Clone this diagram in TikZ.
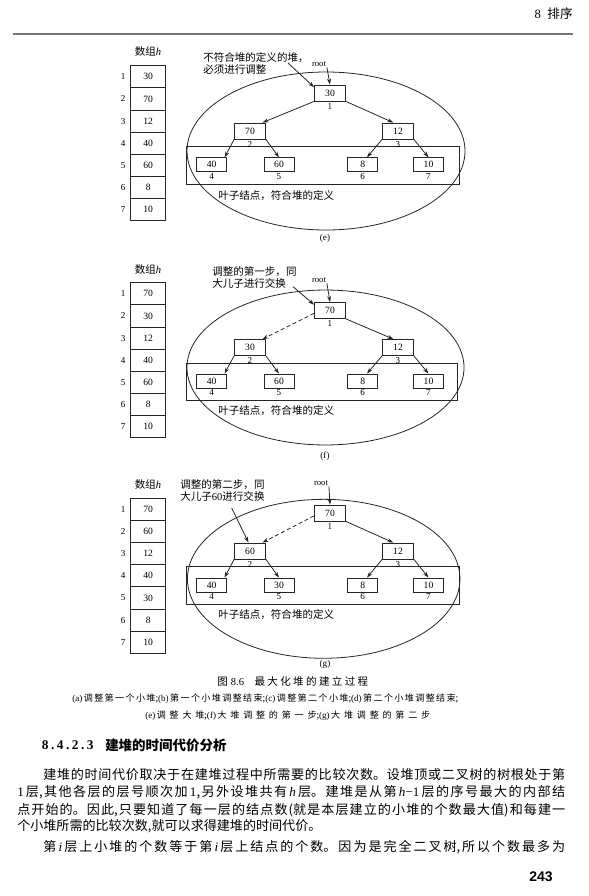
\documentclass[tikz,border=0pt]{standalone}
\usepackage{fontspec}
\setmainfont{Liberation Serif}
\newfontfamily\cjk{Noto Sans CJK SC}
\newfontfamily\pgfont{Liberation Sans}
\usetikzlibrary{positioning,arrows.meta}
\XeTeXlinebreaklocale "zh"
\XeTeXlinebreakskip=0pt plus 3pt minus 0.3pt
\XeTeXlinebreakpenalty=10000
\newcommand{\lat}[1]{{\rmfamily #1}}
\newcommand{\vh}[1]{{\rmfamily\itshape #1}}
\newcommand{\spread}[2]{\parbox{#1}{\parfillskip=0pt\relax\noindent #2}}

\begin{document}
\begin{tikzpicture}[x=0.75pt,y=0.75pt,yscale=-1,xscale=1,
  ink/.style={draw=black!85,line width=0.6pt},
  cell/.style={ink,minimum width=26.25pt,minimum height=16.6pt,inner sep=0pt,outer sep=0pt,font=\fontsize{7.2}{8.5}\selectfont},
  hnode/.style={ink,minimum width=23.25pt,minimum height=12pt,inner sep=0pt,font=\fontsize{7.2}{8.5}\selectfont},
  leaf/.style={ink,minimum width=22.5pt,minimum height=10.5pt,inner sep=0pt,font=\fontsize{7.2}{8.5}\selectfont},
  idx/.style={inner sep=0.8pt,font=\fontsize{6.8}{8}\selectfont},
  rootlbl/.style={inner sep=0.5pt,font=\fontsize{6.5}{8}\selectfont},
  note/.style={inner sep=0pt,align=left,font=\cjk\fontsize{7.9}{9}\selectfont},
  tolink/.style={ink,-{Stealth[length=4.5pt,width=3pt]}},
  dashlink/.style={tolink,dash pattern=on 3pt off 2pt},
  body/.style={anchor=west,inner sep=0pt,font=\cjk\fontsize{9.8}{11}\selectfont},
  capt/.style={anchor=west,inner sep=0pt,font=\cjk\fontsize{6.8}{8}\selectfont}
]
\path[use as bounding box] (0,0) rectangle (589,896);

% Header
\node[anchor=east,inner sep=0pt,font=\cjk\fontsize{9.5}{11}\selectfont] (head) at (573,14) {\lat{8}\enspace 排序};
\draw[black!55,line width=0.9pt] (13,34) -- (573,34);

%%%%%%%% (e)
% Text Node
\node[note] (tE) at (148,52) {数组\vh{h}};
%Shape: Array
\node[cell] (hE1) at (148.2,76.8) {30};
\node[cell,below=0pt of hE1] (hE2) {70};
\node[cell,below=0pt of hE2] (hE3) {12};
\node[cell,below=0pt of hE3] (hE4) {40};
\node[cell,below=0pt of hE4] (hE5) {60};
\node[cell,below=0pt of hE5] (hE6) {8};
\node[cell,below=0pt of hE6] (hE7) {10};
\node[idx,left=3pt of hE1] (iE1) {1};
\node[idx,left=3pt of hE2] (iE2) {2};
\node[idx,left=3pt of hE3] (iE3) {3};
\node[idx,left=3pt of hE4] (iE4) {4};
\node[idx,left=3pt of hE5] (iE5) {5};
\node[idx,left=3pt of hE6] (iE6) {6};
\node[idx,left=3pt of hE7] (iE7) {7};
%Shape: Ellipse
\draw[ink] (326,151) ellipse [x radius=104.25pt,y radius=59.25pt];
%Shape: Rectangle
\draw[ink] (186,146.7) rectangle (459,184);
% Tree
\node[hnode] (nE1) at (330,93) {30};
\node[hnode] (nE2) at (250,131) {70};
\node[hnode] (nE3) at (398,131) {12};
\node[leaf] (lE1) at (211.7,164.8) {40};
\node[leaf] (lE2) at (279,164.8) {60};
\node[leaf] (lE3) at (362.7,164.8) {8};
\node[leaf] (lE4) at (428.5,164.8) {10};
\node[idx,below=0.5pt of nE1] (kE1) {1};
\node[idx,below=0.5pt of nE2] (kE2) {2};
\node[idx,below=0.5pt of nE3] (kE3) {3};
\node[idx,below=0pt of lE1] (kE4) {4};
\node[idx,below=0pt of lE2] (kE5) {5};
\node[idx,below=0pt of lE3] (kE6) {6};
\node[idx,below=0pt of lE4] (kE7) {7};
\node[rootlbl] (rE) at (319,64) {root};
\node[note,anchor=west] (aE) at (203,63) {不符合堆的定义的堆，\\必须进行调整};
\coordinate (pE) at (288,63);
%Straight Lines
\draw[tolink] (rE.south east) -- (nE1.north);
\draw[tolink] (pE) -- (nE1.160);
\draw[tolink] (nE1.south west) -- (nE2.34);
\draw[tolink] (nE1.south east) -- (nE3.119);
\draw[tolink] (nE2.south west) -- (lE1.30);
\draw[tolink] (nE2.south east) -- (lE2.north);
\draw[tolink] (nE3.south west) -- (lE3.60);
\draw[tolink] (nE3.south east) -- (lE4.north);
% Text Node
\node[note,anchor=west] (yE) at (218,196) {叶子结点，符合堆的定义};
\node[idx] (cE) at (325,238) {(e)};

%%%%%%%% (f)
% Text Node
\node[note] (tF) at (148,270) {数组\vh{h}};
%Shape: Array
\node[cell] (hF1) at (148.2,293.8) {70};
\node[cell,below=0pt of hF1] (hF2) {30};
\node[cell,below=0pt of hF2] (hF3) {12};
\node[cell,below=0pt of hF3] (hF4) {40};
\node[cell,below=0pt of hF4] (hF5) {60};
\node[cell,below=0pt of hF5] (hF6) {8};
\node[cell,below=0pt of hF6] (hF7) {10};
\node[idx,left=3pt of hF1] (iF1) {1};
\node[idx,left=3pt of hF2] (iF2) {2};
\node[idx,left=3pt of hF3] (iF3) {3};
\node[idx,left=3pt of hF4] (iF4) {4};
\node[idx,left=3pt of hF5] (iF5) {5};
\node[idx,left=3pt of hF6] (iF6) {6};
\node[idx,left=3pt of hF7] (iF7) {7};
%Shape: Ellipse
\draw[ink] (325.5,367.5) ellipse [x radius=103.9pt,y radius=58.1pt];
%Shape: Rectangle
\draw[ink] (186,363.3) rectangle (457.7,400.7);
% Tree
\node[hnode] (nF1) at (330,310.5) {70};
\node[hnode] (nF2) at (250,347.5) {30};
\node[hnode] (nF3) at (398,347.5) {12};
\node[leaf] (lF1) at (211.7,381) {40};
\node[leaf] (lF2) at (279,381) {60};
\node[leaf] (lF3) at (362.7,381) {8};
\node[leaf] (lF4) at (428.5,381) {10};
\node[idx,below=0.5pt of nF1] (kF1) {1};
\node[idx,below=0.5pt of nF2] (kF2) {2};
\node[idx,below=0.5pt of nF3] (kF3) {3};
\node[idx,below=0pt of lF1] (kF4) {4};
\node[idx,below=0pt of lF2] (kF5) {5};
\node[idx,below=0pt of lF3] (kF6) {6};
\node[idx,below=0pt of lF4] (kF7) {7};
\node[rootlbl] (rF) at (319,280) {root};
\node[note,anchor=west] (aF) at (212,277.7) {调整的第一步，同\\大儿子进行交换};
\coordinate (pF) at (293,286.7);
%Straight Lines
\draw[tolink] (rF.south east) -- (nF1.north);
\draw[tolink] (pF) -- (nF1.160);
\draw[dashlink] (nF1.190) -- (nF2.34);
\draw[tolink] (nF1.south east) -- (nF3.119);
\draw[tolink] (nF2.south west) -- (lF1.30);
\draw[tolink] (nF2.south east) -- (lF2.north);
\draw[tolink] (nF3.south west) -- (lF3.60);
\draw[tolink] (nF3.south east) -- (lF4.north);
% Text Node
\node[note,anchor=west] (yF) at (218,411) {叶子结点，符合堆的定义};
\node[idx] (cF) at (325,456) {(f)};

%%%%%%%% (g)
% Text Node
\node[note] (tG) at (148,485) {数组\vh{h}};
%Shape: Array
\node[cell] (hG1) at (148.2,509.4) {70};
\node[cell,below=0pt of hG1] (hG2) {60};
\node[cell,below=0pt of hG2] (hG3) {12};
\node[cell,below=0pt of hG3] (hG4) {40};
\node[cell,below=0pt of hG4] (hG5) {30};
\node[cell,below=0pt of hG5] (hG6) {8};
\node[cell,below=0pt of hG6] (hG7) {10};
\node[idx,left=3pt of hG1] (iG1) {1};
\node[idx,left=3pt of hG2] (iG2) {2};
\node[idx,left=3pt of hG3] (iG3) {3};
\node[idx,left=3pt of hG4] (iG4) {4};
\node[idx,left=3pt of hG5] (iG5) {5};
\node[idx,left=3pt of hG6] (iG6) {6};
\node[idx,left=3pt of hG7] (iG7) {7};
%Shape: Ellipse
\draw[ink] (323.7,578.8) ellipse [x radius=102.2pt,y radius=59.6pt];
%Shape: Rectangle
\draw[ink] (186,566.7) rectangle (459.3,604.3);
% Tree
\node[hnode] (nG1) at (330,513) {70};
\node[hnode] (nG2) at (250,551) {60};
\node[hnode] (nG3) at (398,551) {12};
\node[leaf] (lG1) at (211.7,585) {40};
\node[leaf] (lG2) at (279,585) {30};
\node[leaf] (lG3) at (362.7,585) {8};
\node[leaf] (lG4) at (428.5,585) {10};
\node[idx,below=0.5pt of nG1] (kG1) {1};
\node[idx,below=0.5pt of nG2] (kG2) {2};
\node[idx,below=0.5pt of nG3] (kG3) {3};
\node[idx,below=0pt of lG1] (kG4) {4};
\node[idx,below=0pt of lG2] (kG5) {5};
\node[idx,below=0pt of lG3] (kG6) {6};
\node[idx,below=0pt of lG4] (kG7) {7};
\node[rootlbl] (rG) at (321,483) {root};
\node[note,anchor=west] (aG) at (180,490.5) {调整的第二步，同\\大儿子\lat{60}进行交换};
\coordinate (pG) at (231.7,508);
%Straight Lines
\draw[tolink] (rG.south east) -- (nG1.north);
\draw[tolink] (pG) -- (nG2.100);
\draw[dashlink] (nG1.190) -- (nG2.34);
\draw[tolink] (nG1.south east) -- (nG3.119);
\draw[tolink] (nG2.south west) -- (lG1.30);
\draw[tolink] (nG2.south east) -- (lG2.north);
\draw[tolink] (nG3.south west) -- (lG3.60);
\draw[tolink] (nG3.south east) -- (lG4.north);
% Text Node
\node[note,anchor=west] (yG) at (218,614.3) {叶子结点，符合堆的定义};
\node[idx] (cG) at (325,664) {(g)};

%%%%%%%% caption
\node[capt,font=\cjk\fontsize{7.9}{9}\selectfont] (cap1) at (217,681) {\spread{113.25pt}{图 \lat{8.6}\quad 最大化堆的建立过程}};
\node[capt] (cap2) at (72,699) {\spread{289.5pt}{\lat{(a)}\,调整第一个小堆;\lat{(b)}\,第一个小堆调整结束;\lat{(c)}\,调整第二个小堆;\lat{(d)}\,第二个小堆调整结束;}};
\node[capt] (cap3) at (145,716) {\spread{213.75pt}{\lat{(e)}\,调整大堆;\lat{(f)}\,大堆调整的第一步;\lat{(g)}\,大堆调整的第二步}};

% Section
\node[anchor=west,inner sep=0pt,font=\fontsize{10}{12}\selectfont\bfseries] (secno) at (41.7,745) {\makebox[38.7pt][s]{8\hfil.\hfil4\hfil.\hfil2\hfil.\hfil3}};
\node[anchor=west,inner sep=0pt,font=\cjk\fontsize{10.1}{12}\selectfont\bfseries] (sectit) at (105,745) {建堆的时间代价分析};

% Body
\node[body] (b1) at (43,775) {\spread{391.5pt}{建堆的时间代价取决于在建堆过程中所需要的比较次数。设堆顶或二叉树的树根处于第}};
\node[body] (b2) at (17,792.3) {\spread{411pt}{\lat{1}\,层,其他各层的层号顺次加\,\lat{1},另外设堆共有\,\vh{h}\,层。建堆是从第\,\vh{h}\lat{−1}\,层的序号最大的内部结}};
\node[body] (b3) at (17,810) {\spread{411pt}{点开始的。因此,只要知道了每一层的结点数(就是本层建立的小堆的个数最大值)和每建一}};
\node[body] (b4) at (17,826.7) {个小堆所需的比较次数,就可以求得建堆的时间代价。};
\node[body] (b5) at (43,847.3) {\spread{391.5pt}{第\,\vh{i}\,层上小堆的个数等于第\,\vh{i}\,层上结点的个数。因为是完全二叉树,所以个数最多为}};
\node[anchor=east,inner sep=0pt,font=\pgfont\fontsize{10.5}{12}\selectfont\bfseries] (pg) at (553,877) {243};
\end{tikzpicture}
\end{document}
